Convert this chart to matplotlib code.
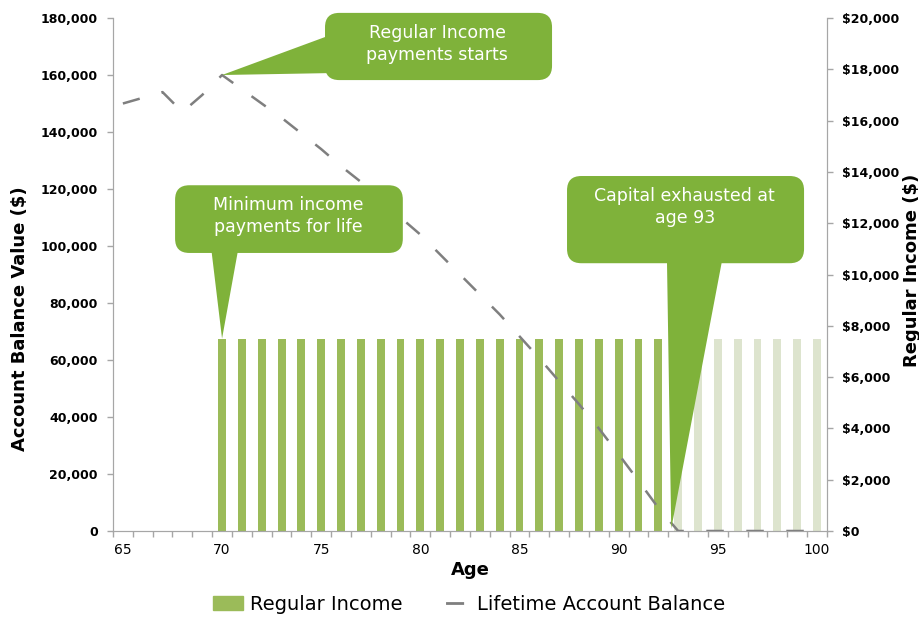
import matplotlib
matplotlib.use("Agg")
import matplotlib.pyplot as plt
from matplotlib.patches import FancyBboxPatch, Polygon, Patch
from matplotlib.lines import Line2D
from matplotlib.ticker import FuncFormatter, FixedLocator

# ---------------- data ----------------
ages = list(range(65, 101))
balance = [150000, 152000, 154000, 147000, 153000, 160000, 155000, 150000,
           145000, 139500, 134000, 128000, 122500, 116000, 110000, 104000,
           97000, 90000, 83000, 76000, 68300, 60600, 52500, 44500, 36000,
           26900, 17600, 8100, 0, 0, 0, 0, 0, 0, 0, 0]
income = [0, 0, 0, 0, 0] + [7500] * 31
exhausted_age = 93
income_start_age = 70

left_ticks = list(range(0, 180001, 20000))
right_ticks = list(range(0, 20001, 2000))
x_ticks = list(range(65, 101, 5))

# ---------------- style ----------------
dark_green = '#9BBB59'
light_green = '#DDE4CE'
callout_green = '#7FB23A'
line_gray = '#7F7F7F'
spine_gray = '#A6A6A6'

fig = plt.figure(figsize=(9.2, 6.17), dpi=100)
ax = fig.add_axes([0.1228, 0.1394, 0.776, 0.8314])
axr = ax.twinx()
ax.set_zorder(axr.get_zorder() + 1)
ax.patch.set_visible(False)

# bars (right axis)
paid_x = [a for a, v in zip(ages, income) if a < exhausted_age and v > 0]
paid_y = [v for a, v in zip(ages, income) if a < exhausted_age and v > 0]
unp_x = [a for a, v in zip(ages, income) if a >= exhausted_age and v > 0]
unp_y = [v for a, v in zip(ages, income) if a >= exhausted_age and v > 0]
axr.bar(paid_x, paid_y, width=0.4, color=dark_green, zorder=2)
axr.bar(unp_x, unp_y, width=0.4, color=light_green, zorder=2)

# line (left axis)
ax.plot(ages, balance, color=line_gray, lw=1.8, linestyle=(0, (7, 9)), zorder=3)

ax.set_xlim(64.5, 100.5)
ax.set_ylim(0, 180000)
axr.set_ylim(0, 20000)

ax.set_yticks(left_ticks)
ax.yaxis.set_major_formatter(FuncFormatter(lambda v, p: f'{v:,.0f}'))
axr.set_yticks(right_ticks)
axr.yaxis.set_major_formatter(FuncFormatter(lambda v, p: f'${v:,.0f}'))

ax.set_xticks(x_ticks)
ax.xaxis.set_minor_locator(FixedLocator([a - 0.5 for a in ages] + [ages[-1] + 0.5]))
ax.tick_params(axis='x', which='major', length=0, pad=9, labelsize=10)
ax.tick_params(axis='x', which='minor', length=4, color=spine_gray, width=1)

for a in (ax, axr):
    a.tick_params(axis='y', length=4, color=spine_gray, width=1, pad=7)
    for s in a.spines.values():
        s.set_color(spine_gray)
    a.spines['top'].set_visible(False)
for lab in ax.get_yticklabels() + axr.get_yticklabels():
    lab.set_fontweight('bold')
    lab.set_fontsize(9)

# axis titles
fig.text(20 / 920, 1 - 319 / 617, 'Account Balance Value ($)', rotation=90,
         ha='center', va='center', fontsize=13, fontweight='bold')
fig.text(912 / 920, 1 - 270 / 617, 'Regular Income ($)', rotation=90,
         ha='center', va='center', fontsize=13, fontweight='bold')
fig.text(470 / 920, 1 - 570 / 617, 'Age', ha='center', va='center',
         fontsize=13, fontweight='bold')

# ---------------- callouts ----------------
def to_axes(xy):
    return ax.transAxes.inverted().transform(ax.transData.transform(xy))

def callout(box, base, tip_data, text, text_xy):
    x0, y0, x1, y1 = box
    p = FancyBboxPatch((x0, y0), x1 - x0, y1 - y0,
                       boxstyle='round,pad=0,rounding_size=0.02',
                       mutation_aspect=714 / 513, transform=ax.transAxes,
                       fc=callout_green, ec='none', clip_on=False, zorder=10)
    ax.add_patch(p)
    tip = to_axes(tip_data)
    poly = Polygon([base[0], base[1], tip], closed=True, transform=ax.transAxes,
                   fc=callout_green, ec='none', clip_on=False, zorder=10)
    ax.add_patch(poly)
    ax.text(text_xy[0], text_xy[1], text, transform=ax.transAxes, ha='center',
            va='center', color='white', fontsize=12.5, linespacing=1.25,
            zorder=11, clip_on=False)

i70 = ages.index(income_start_age)
callout((0.297, 0.879, 0.615, 1.010), [(0.305, 0.967), (0.318, 0.893)],
        (income_start_age, balance[i70]), 'Regular Income\npayments starts',
        (0.454, 0.949))
callout((0.087, 0.542, 0.406, 0.674), [(0.138, 0.546), (0.175, 0.546)],
        (income_start_age, income[i70] * 9), 'Minimum income\npayments for life',
        (0.245, 0.614))
callout((0.636, 0.522, 0.968, 0.692), [(0.776, 0.526), (0.853, 0.526)],
        (exhausted_age - 0.35, 800), 'Capital exhausted at\nage 93',
        (0.801, 0.632))

# ---------------- legend ----------------
handles = [Patch(color=dark_green),
           Line2D([], [], color=line_gray, lw=2, linestyle=(8.5, (6.5, 4)))]
fig.legend(handles, ['Regular Income', 'Lifetime Account Balance'],
           loc='center', bbox_to_anchor=(0.510, 0.021), ncol=2, frameon=False,
           fontsize=14, handlelength=1.5, handletextpad=0.4, columnspacing=1.9)

fig.savefig('out.png', dpi=100)
